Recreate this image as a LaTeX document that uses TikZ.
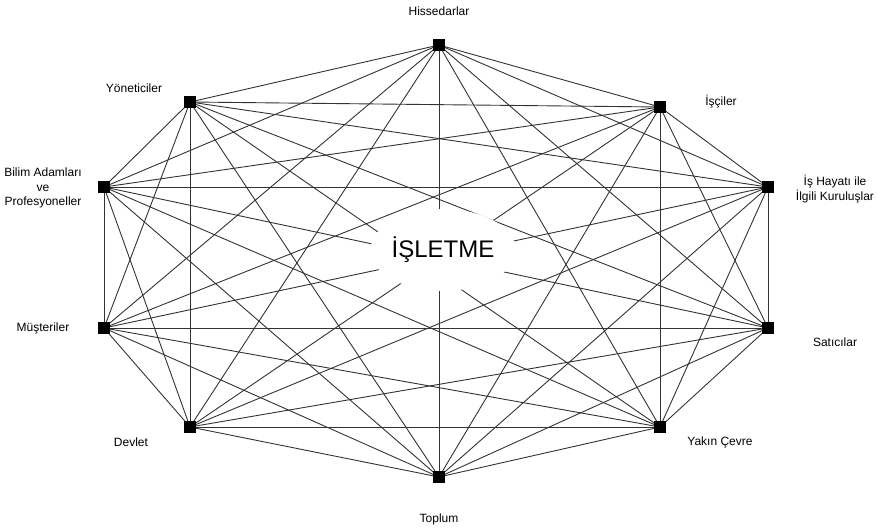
\documentclass[tikz,border=0pt]{standalone}
\usepackage{fontspec}
\setmainfont{Liberation Sans}
\usetikzlibrary{shapes.geometric,backgrounds}
\begin{document}
\begin{tikzpicture}[x=1pt,y=-1pt,
  sq/.style={fill=black, minimum size=12pt, inner sep=0pt, draw=none},
  lbl/.style={font=\fontsize{12}{14.5}\selectfont, align=center, inner sep=0pt},
  conn/.style={draw=black!80, line width=0.9pt}]
\useasboundingbox (0,0) rectangle (878,530);
\node[sq] (n1) at (439,45) {};
\node[sq] (n2) at (660,107) {};
\node[sq] (n3) at (768,187) {};
\node[sq] (n4) at (768,328) {};
\node[sq] (n5) at (660,427) {};
\node[sq] (n6) at (439,477) {};
\node[sq] (n7) at (190,427) {};
\node[sq] (n8) at (104,328) {};
\node[sq] (n9) at (104,187) {};
\node[sq] (n10) at (190,102) {};
\begin{pgfonlayer}{background}
\foreach \i in {1,...,9}{
  \pgfmathtruncatemacro\k{\i+1}
  \foreach \j in {\k,...,10}{
    \draw[conn] (n\i.center) -- (n\j.center);
  }
}
\end{pgfonlayer}
\node[ellipse, fill=white, minimum width=126pt, minimum height=82pt, inner sep=0pt] (c) at (443,250) {\fontsize{24}{28}\selectfont İŞLETME};
\node[lbl] (l1) at (439,11) {Hissedarlar};
\node[lbl] (l2) at (721,102) {İşçiler};
\node[lbl] (l3) at (835,189) {İş Hayatı ile\\İlgili Kuruluşlar};
\node[lbl] (l4) at (835,342) {Satıcılar};
\node[lbl] (l5) at (720,442) {Yakın Çevre};
\node[lbl] (l6) at (439,519) {Toplum};
\node[lbl] (l7) at (131,442) {Devlet};
\node[lbl] (l8) at (43,328) {Müşteriler};
\node[lbl] (l9) at (43,188) {Bilim Adamları\\ve\\Profesyoneller};
\node[lbl] (l10) at (134,88) {Yöneticiler};
\end{tikzpicture}
\end{document}
